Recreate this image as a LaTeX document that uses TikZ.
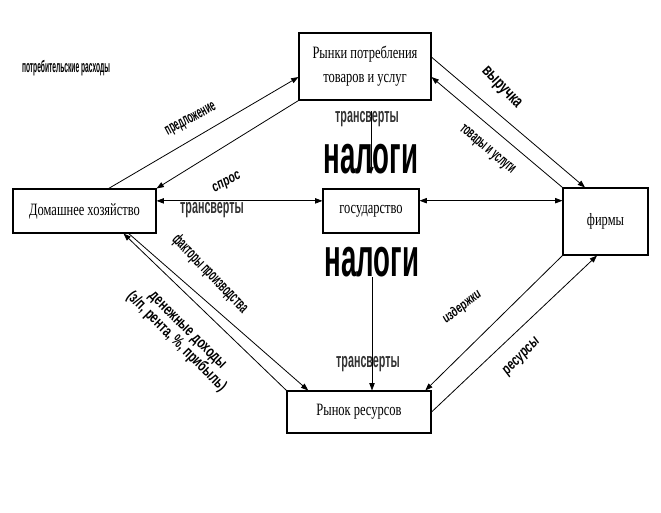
\documentclass[tikz,border=0pt]{standalone}
\usepackage{fontspec}
\usepackage{graphicx}
\setmainfont{Liberation Serif}
\newfontfamily\boxfont[FakeStretch=0.72]{Liberation Serif}
\newfontfamily\lblfont[FakeStretch=0.7]{Liberation Sans}
\newfontfamily\narrowfont[FakeStretch=0.52]{Liberation Sans}
\newfontfamily\tightfont[FakeStretch=0.4]{Liberation Sans}
\usetikzlibrary{arrows.meta}
\tikzset{
  blk/.style={draw, line width=0.8pt, font=\boxfont\fontsize{13}{18}\selectfont, align=center, inner sep=0pt},
  lbl/.style={font=\lblfont\bfseries\fontsize{#1}{#1}\selectfont, inner sep=0pt},
  ilbl/.style={font=\lblfont\bfseries\itshape\fontsize{#1}{#1}\selectfont, inner sep=0pt},
  nlbl/.style={font=\narrowfont\bfseries\fontsize{#1}{#1}\selectfont, inner sep=0pt},
  trans/.style={font=\narrowfont\bfseries\fontsize{15.5}{15.5}\selectfont, text=black!80, inner sep=0pt},
  flow/.style={-{Triangle[length=5.5pt,width=4pt]}, line width=0.6pt},
  both/.style={{Triangle[length=5.5pt,width=4pt]}-{Triangle[length=5.5pt,width=4pt]}, line width=0.6pt},
}
\newcommand{\taxword}{\resizebox{71pt}{22pt}{\lblfont\bfseries налоги}}

\begin{document}
\begin{tikzpicture}[x=0.75pt, y=-0.75pt]
  \useasboundingbox (0,0) rectangle (661,512);
  \node[blk, minimum width=99pt, minimum height=50.25pt] (mkt) at (365,66.5) {Рынки потребления\\товаров и услуг};
  \node[blk, minimum width=107.25pt, minimum height=33pt] (hh) at (84.5,211) {Домашнее хозяйство};
  \node[blk, minimum width=72pt, minimum height=33pt] (gov) at (371,211) {государство};
  \node[blk, minimum width=63.75pt, minimum height=50.25pt] (firm) at (605.5,221.5) {фирмы};
  \node[blk, minimum width=108pt, minimum height=31.5pt] (res) at (359,412) {Рынок ресурсов};
  % labels
  \node[font=\tightfont\bfseries\fontsize{12.5}{12.5}\selectfont, inner sep=0pt] (cons) at (66,68) {потребительские расходы};
  \node[nlbl=12, rotate=28] (supply) at (191,120) {предложение};
  \node[ilbl=11, rotate=27] (demand) at (227,183) {спрос};
  \node[trans] (trl) at (212,210) {трансверты};
  \node[trans] (trt) at (367,119) {трансверты};
  \node[trans] (trb) at (368,364) {трансверты};
  \node[inner sep=0pt] (taxt) at (371,159) {\taxword};
  \node[inner sep=0pt] (taxb) at (372,262) {\taxword};
  \node[lbl=13, rotate=-47] (rev) at (501,88) {выручка};
  \node[nlbl=12, rotate=-40] (goods) at (487,150) {товары и услуги};
  \node[nlbl=12.5, rotate=-46] (factors) at (210,274) {факторы производства};
  \node[lbl=12, rotate=-45, align=center] (income) at (181,337) {денежные доходы\\(з/п, рента, \%, прибыль)};
  \node[ilbl=10.3, rotate=38] (cost) at (462,307) {издержки};
  \node[ilbl=11.5, rotate=45] (resrc) at (522,357) {ресурсы};
  % flows
  \draw[flow] (hh.43) -- (mkt.189);
  \draw[flow] (mkt.south west) -- (hh.north east);
  \draw[both] (hh.8) -- (hh.8 -| gov.west);
  \draw[both] (gov.12) -- (gov.12 -| firm.west);
  \draw[flow] (mkt.8) -- (firm.121);
  \draw[flow] (firm.north west) -- (mkt.-9);
  \draw[flow] (hh.-27) -- (res.157);
  \draw[flow] (res.north west) -- (hh.-30);
  \draw[flow] (firm.south west) -- (res.18);
  \draw[flow] (res.east) -- (firm.-104);
  \draw[flow] (trt.north -| taxt.south) -- (taxt.south);
  \draw[flow] (taxb.south) -- (taxb.south |- res.north);
\end{tikzpicture}
\end{document}
